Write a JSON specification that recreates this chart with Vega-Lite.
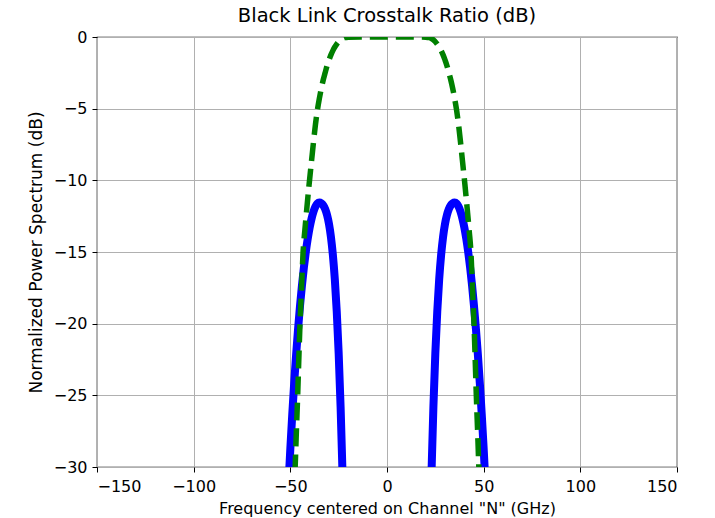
{
  "$schema": "https://vega.github.io/schema/vega-lite/v6.json",
  "width": 580,
  "height": 430,
  "autosize": "none",
  "padding": {"left": 97, "top": 37, "right": 38, "bottom": 51},
  "title": {"text": "Black Link Crosstalk Ratio (dB)", "font": "DejaVu Sans", "fontSize": 19.5, "fontWeight": "normal", "color": "black", "offset": 3},
  "config": {
    "view": {"stroke": "black", "strokeWidth": 1.2},
    "axis": {
      "domain": false,
      "grid": true,
      "gridColor": "#b0b0b0",
      "gridWidth": 1,
      "ticks": true,
      "tickColor": "black",
      "tickSize": 5,
      "labelFont": "DejaVu Sans",
      "labelFontSize": 16,
      "labelColor": "black",
      "titleFont": "DejaVu Sans",
      "titleFontSize": 16,
      "titleFontWeight": "normal",
      "titleColor": "black"
    }
  },
  "datasets": {
    "curves": [
      {"curve": "blueL", "x": -52, "y": -34.23},
      {"curve": "blueL", "x": -51, "y": -31.36},
      {"curve": "blueL", "x": -50, "y": -28.73},
      {"curve": "blueL", "x": -49, "y": -26.32},
      {"curve": "blueL", "x": -48, "y": -24.13},
      {"curve": "blueL", "x": -47, "y": -22.15},
      {"curve": "blueL", "x": -46, "y": -20.37},
      {"curve": "blueL", "x": -45, "y": -18.77},
      {"curve": "blueL", "x": -44, "y": -17.34},
      {"curve": "blueL", "x": -43, "y": -16.09},
      {"curve": "blueL", "x": -42, "y": -15.0},
      {"curve": "blueL", "x": -41, "y": -14.07},
      {"curve": "blueL", "x": -40, "y": -13.29},
      {"curve": "blueL", "x": -39, "y": -12.66},
      {"curve": "blueL", "x": -38, "y": -12.17},
      {"curve": "blueL", "x": -37, "y": -11.83},
      {"curve": "blueL", "x": -36, "y": -11.62},
      {"curve": "blueL", "x": -35, "y": -11.55},
      {"curve": "blueL", "x": -34, "y": -11.6},
      {"curve": "blueL", "x": -33, "y": -11.74},
      {"curve": "blueL", "x": -32, "y": -12.0},
      {"curve": "blueL", "x": -31, "y": -12.42},
      {"curve": "blueL", "x": -30, "y": -13.05},
      {"curve": "blueL", "x": -29, "y": -13.95},
      {"curve": "blueL", "x": -28, "y": -15.2},
      {"curve": "blueL", "x": -27, "y": -16.89},
      {"curve": "blueL", "x": -26, "y": -19.14},
      {"curve": "blueL", "x": -25, "y": -22.06},
      {"curve": "blueL", "x": -24, "y": -25.8},
      {"curve": "blueL", "x": -23, "y": -30.5},
      {"curve": "blueL", "x": -22, "y": -36.3},
      {"curve": "blueR", "x": 22, "y": -36.3},
      {"curve": "blueR", "x": 23, "y": -30.5},
      {"curve": "blueR", "x": 24, "y": -25.8},
      {"curve": "blueR", "x": 25, "y": -22.06},
      {"curve": "blueR", "x": 26, "y": -19.14},
      {"curve": "blueR", "x": 27, "y": -16.89},
      {"curve": "blueR", "x": 28, "y": -15.2},
      {"curve": "blueR", "x": 29, "y": -13.95},
      {"curve": "blueR", "x": 30, "y": -13.05},
      {"curve": "blueR", "x": 31, "y": -12.42},
      {"curve": "blueR", "x": 32, "y": -12.0},
      {"curve": "blueR", "x": 33, "y": -11.74},
      {"curve": "blueR", "x": 34, "y": -11.6},
      {"curve": "blueR", "x": 35, "y": -11.55},
      {"curve": "blueR", "x": 36, "y": -11.62},
      {"curve": "blueR", "x": 37, "y": -11.83},
      {"curve": "blueR", "x": 38, "y": -12.17},
      {"curve": "blueR", "x": 39, "y": -12.66},
      {"curve": "blueR", "x": 40, "y": -13.29},
      {"curve": "blueR", "x": 41, "y": -14.07},
      {"curve": "blueR", "x": 42, "y": -15.0},
      {"curve": "blueR", "x": 43, "y": -16.09},
      {"curve": "blueR", "x": 44, "y": -17.34},
      {"curve": "blueR", "x": 45, "y": -18.77},
      {"curve": "blueR", "x": 46, "y": -20.37},
      {"curve": "blueR", "x": 47, "y": -22.15},
      {"curve": "blueR", "x": 48, "y": -24.13},
      {"curve": "blueR", "x": 49, "y": -26.32},
      {"curve": "blueR", "x": 50, "y": -28.73},
      {"curve": "blueR", "x": 51, "y": -31.36},
      {"curve": "blueR", "x": 52, "y": -34.23}
    ],
    "filter": [
      {"x": -49, "y": -34},
      {"x": -48, "y": -31.5},
      {"x": -47.5, "y": -30},
      {"x": -47, "y": -28},
      {"x": -46.2, "y": -25},
      {"x": -45.5, "y": -22},
      {"x": -45, "y": -20},
      {"x": -44.2, "y": -17.5},
      {"x": -43.4, "y": -15},
      {"x": -42.5, "y": -13.5},
      {"x": -41.5, "y": -12},
      {"x": -40.3, "y": -10.3},
      {"x": -39, "y": -8.6},
      {"x": -38, "y": -7.3},
      {"x": -37, "y": -6.1},
      {"x": -36, "y": -5.1},
      {"x": -35, "y": -4.3},
      {"x": -34, "y": -3.6},
      {"x": -33, "y": -3},
      {"x": -32, "y": -2.5},
      {"x": -31, "y": -2},
      {"x": -30, "y": -1.6},
      {"x": -29, "y": -1.25},
      {"x": -28, "y": -0.95},
      {"x": -27, "y": -0.7},
      {"x": -26, "y": -0.5},
      {"x": -25, "y": -0.33},
      {"x": -24, "y": -0.2},
      {"x": -23, "y": -0.11},
      {"x": -22, "y": -0.05},
      {"x": -20, "y": -0.01},
      {"x": -10, "y": 0},
      {"x": 0, "y": 0},
      {"x": 10, "y": 0},
      {"x": 20, "y": -0.01},
      {"x": 22, "y": -0.05},
      {"x": 23, "y": -0.11},
      {"x": 24, "y": -0.2},
      {"x": 25, "y": -0.33},
      {"x": 26, "y": -0.5},
      {"x": 27, "y": -0.7},
      {"x": 28, "y": -0.95},
      {"x": 29, "y": -1.25},
      {"x": 30, "y": -1.6},
      {"x": 31, "y": -2},
      {"x": 32, "y": -2.5},
      {"x": 33, "y": -3},
      {"x": 34, "y": -3.6},
      {"x": 35, "y": -4.3},
      {"x": 36, "y": -5.1},
      {"x": 37, "y": -6.1},
      {"x": 38, "y": -7.3},
      {"x": 39, "y": -8.6},
      {"x": 40.3, "y": -10.3},
      {"x": 41.5, "y": -12},
      {"x": 42.5, "y": -13.5},
      {"x": 43.4, "y": -15},
      {"x": 44.2, "y": -17.5},
      {"x": 45, "y": -20},
      {"x": 45.5, "y": -22},
      {"x": 46.2, "y": -25},
      {"x": 47, "y": -28},
      {"x": 47.5, "y": -30},
      {"x": 48, "y": -31.5},
      {"x": 49, "y": -34}
    ]
  },
  "encoding": {
    "x": {
      "field": "x", "type": "quantitative",
      "scale": {"domain": [-150, 150], "nice": false, "zero": false},
      "axis": {"values": [-150, -100, -50, 0, 50, 100, 150], "title": "Frequency centered on Channel \"N\" (GHz)", "labelPadding": 6, "titlePadding": 6}
    },
    "y": {
      "field": "y", "type": "quantitative",
      "scale": {"domain": [-30, 0], "nice": false, "zero": false},
      "axis": {"values": [-30, -25, -20, -15, -10, -5, 0], "title": "Normalized Power Spectrum (dB)", "titleFontSize": 17, "labelPadding": 5, "titlePadding": 8}
    }
  },
  "layer": [
    {
      "data": {"name": "curves"},
      "mark": {"type": "line", "color": "blue", "strokeWidth": 8, "clip": true, "interpolate": "monotone"},
      "encoding": {"detail": {"field": "curve"}}
    },
    {
      "data": {"name": "filter"},
      "mark": {"type": "line", "color": "green", "strokeWidth": 5.5, "strokeDash": [18, 8], "clip": true, "interpolate": "monotone"}
    }
  ]
}
